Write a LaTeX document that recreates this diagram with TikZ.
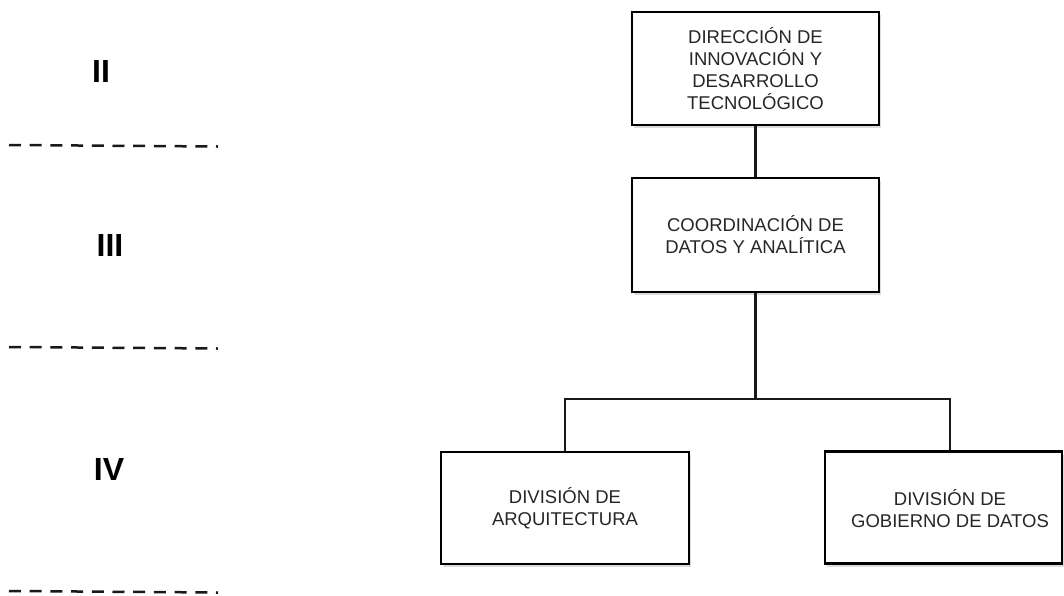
\documentclass[tikz,border=0pt]{standalone}
\usepackage{fontspec}
\setmainfont{Liberation Sans}
\usetikzlibrary{shadows}
\begin{document}
\begin{tikzpicture}[x=1pt,y=-1pt,
  box/.style={draw=black, line width=2.6pt, fill=white, rectangle, inner sep=0pt,
    align=center, font=\fontsize{18.5}{22}\selectfont, text=black!85,
    drop shadow={shadow xshift=2pt, shadow yshift=-3pt, opacity=0.3, fill=black!45}},
  boxtext/.style={align=center, inner sep=0pt, font=\fontsize{18.5}{22}\selectfont, text=black!85},
  link/.style={line width=2.4pt, draw=black!90},
  level/.style={font=\fontsize{32}{36}\selectfont\bfseries, inner sep=0pt},
  sepline/.style={line width=2.5pt, draw=black!90, dash pattern=on 12pt off 8.7pt}]
\useasboundingbox (0,0) rectangle (1064,595);

% boxes
\node[box, minimum width=247pt, minimum height=113pt] (dir) at (755.5,68.5)
  {DIRECCIÓN DE\\INNOVACIÓN Y\\DESARROLLO\\TECNOLÓGICO};
\node[box, minimum width=247pt, minimum height=114pt] (coord) at (755.5,235)
  {COORDINACIÓN DE\\DATOS Y ANALÍTICA};
\node[box, minimum width=248pt, minimum height=112pt] (arq) at (565,508)
  {DIVISIÓN DE\\ARQUITECTURA};
\node[box, minimum width=237pt, minimum height=112pt] (gob) at (943.5,507.5) {};
\node[boxtext] (gobt) at (950,509) {DIVISIÓN DE\\GOBIERNO DE DATOS};

% connectors
\coordinate (bar) at (757,399);
\draw[link] (dir.south) -- (coord.north);
\draw[link] (coord.south) -- (coord.south |- bar);
\draw[link] (arq.north) |- (bar -| gobt) -- (gob.north -| gobt);

% level labels
\node[level] (l2) at (101,71) {II};
\node[level] (l3) at (110,245) {III};
\node[level] (l4) at (109,469) {IV};

% separators
\coordinate (s1a) at (9,145);   \coordinate (s1b) at (218,146.5);
\coordinate (s2a) at (9,347);   \coordinate (s2b) at (218,348.5);
\coordinate (s3a) at (9,591);   \coordinate (s3b) at (218,592.5);
\draw[sepline] (s1a) -- (s1b);
\draw[sepline] (s2a) -- (s2b);
\draw[sepline] (s3a) -- (s3b);
\end{tikzpicture}
\end{document}
